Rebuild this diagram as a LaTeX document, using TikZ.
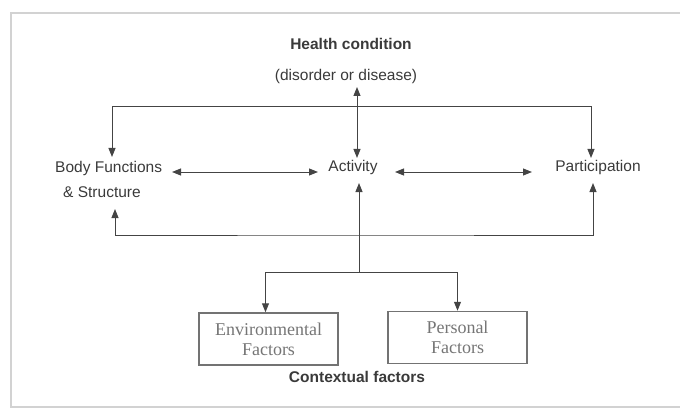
\documentclass[tikz,border=0pt]{standalone}
\usepackage{fontspec}
\setmainfont{Liberation Serif}
\setsansfont{Liberation Sans}
\usetikzlibrary{arrows.meta,positioning,calc}
\definecolor{ln}{HTML}{444444}
\definecolor{txt}{HTML}{3A3A3A}
\definecolor{frm}{HTML}{D2D2D2}
\tikzset{
  lbl/.style={font=\sffamily\fontsize{15.5}{25}\selectfont,text=txt,inner sep=0pt},
  hd/.style={lbl,font=\sffamily\bfseries\fontsize{15.5}{18}\selectfont},
  fbox/.style={draw=ln!75,line width=1.5pt,minimum width=139,minimum height=52,align=center,
    font=\rmfamily\fontsize{18}{20}\selectfont,text=txt!70},
  ar/.style={-{Triangle[length=9pt,width=7pt]},line width=1pt,draw=ln},
  dar/.style={ar,{Triangle[length=9pt,width=7pt]}-{Triangle[length=9pt,width=7pt]}},
}

\begin{document}
\begin{tikzpicture}[x=1pt,y=-1pt]
  \useasboundingbox (0,0) rectangle (680,409);
  \draw[frm,line width=2pt] (690,13) -- (11,13) -- (11,407) -- (690,407);
  % top
  \node[hd] (hc) at (351,44) {Health condition};
  \node[lbl] (hcsub) at (346,76) {(disorder or disease)};
  % middle row
  \node[lbl,align=left,anchor=west] (body) at (55,179) {Body Functions\\\hspace*{8pt}\& Structure};
  \node[lbl] (act) at (353,167) {Activity};
  \node[lbl] (part) at (598,167) {Participation};
  % bottom boxes
  \node[fbox] (env) at (268.5,339) {Environmental\\Factors};
  \node[fbox] (pers) at (457.5,337.5) {Personal\\Factors};
  \node[hd] (ctx) at (357,377) {Contextual factors};
  % junctions and arrow ends
  \coordinate (tj) at (357,107);
  \coordinate (bj) at (357,235);
  \coordinate (cj) at (359,272);
  \coordinate (hcB) at (357,87);
  \coordinate (actT) at (357,158);
  \coordinate (actB) at (359,183);
  \coordinate (actL) at (318,172);
  \coordinate (actR) at (395,172);
  \coordinate (bodyT) at (112,157);
  \coordinate (bodyB) at (115,209);
  \coordinate (bodyR) at (172,172);
  \coordinate (partT) at (591,158);
  \coordinate (partB) at (593,183);
  \coordinate (partL) at (532,172);
  \draw[dar] (actT) -- (hcB);
  \draw[ar] (tj) -| (bodyT);
  \draw[ar] (tj) -| (partT);
  \draw[dar] (bodyB) |- (bj) -| (partB);
  \draw[ar] (cj) -- (actB);
  \draw[ar] (cj) -| ($(env.north)+(-3,0)$);
  \draw[ar] (cj) -| (pers.north);
  \draw[dar] (bodyR) -- (actL);
  \draw[dar] (actR) -- (partL);
\end{tikzpicture}
\end{document}
